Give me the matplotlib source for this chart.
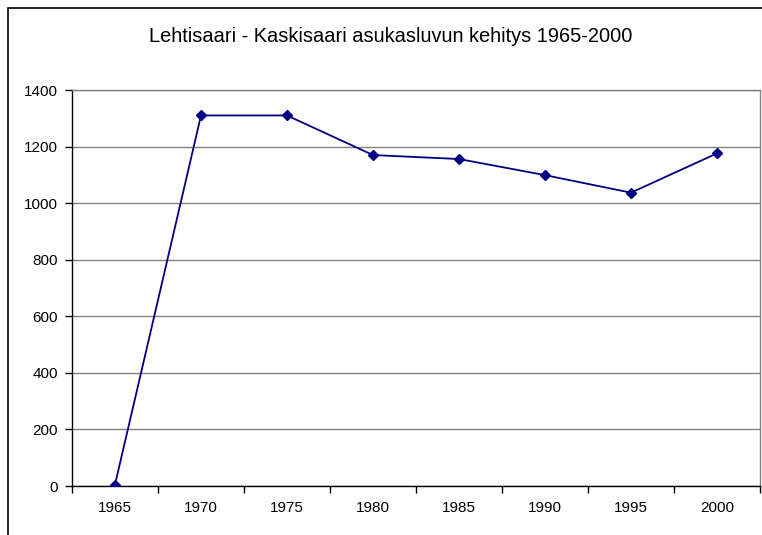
import matplotlib
matplotlib.use('Agg')
import matplotlib.pyplot as plt
from matplotlib.patches import Rectangle
import numpy as np

plt.rcParams['font.family'] = ['Liberation Sans', 'DejaVu Sans']

years = ['1965', '1970', '1975', '1980', '1985', '1990', '1995', '2000']
population = [5, 1310, 1310, 1170, 1156, 1099, 1037, 1176]

W, H = 762, 535
fig = plt.figure(figsize=(W / 100, H / 100), dpi=100)

# chart area border (runs off the right and bottom of the picture)
fig.patches.append(Rectangle((8 / W, -0.1), 1.2, 1.1 - 8 / H, transform=fig.transFigure,
                             fill=False, edgecolor='black', linewidth=1.2))

left, right, top, bottom = 72, 760, 90, 486
ax = fig.add_axes([left / W, 1 - bottom / H, (right - left) / W, (bottom - top) / H])

x = np.arange(len(years))
ax.plot(x, population, color='#000080', linewidth=1.3, marker='D', markersize=5.2,
        markerfacecolor='#000080', markeredgecolor='#000080', zorder=3)

ax.set_xlim(-0.5, len(years) - 0.5)
ax.set_ylim(0, 1400)
ax.set_yticks(range(0, 1401, 200))
ax.yaxis.grid(True, color='#808080', linewidth=1)
ax.set_axisbelow(True)

ax.set_xticks(x)
ax.set_xticklabels(years)
ax.set_xticks(np.arange(-0.5, len(years)), minor=True)
ax.tick_params(axis='x', which='major', length=0, pad=11, labelsize=11)
ax.tick_params(axis='x', which='minor', length=5, width=1, direction='out')
ax.tick_params(axis='y', length=5, width=1, direction='out', pad=5, labelsize=11)

ax.spines['top'].set_color('#808080')
ax.spines['right'].set_color('#808080')
ax.spines['left'].set_color('black')
ax.spines['bottom'].set_color('black')
for s in ax.spines.values():
    s.set_linewidth(1)

fig.text(391 / W, 1 - 37 / H, 'Lehtisaari - Kaskisaari asukasluvun kehitys 1965-2000',
         ha='center', va='center', fontsize=14.4)

fig.savefig('out.png', dpi=100)
